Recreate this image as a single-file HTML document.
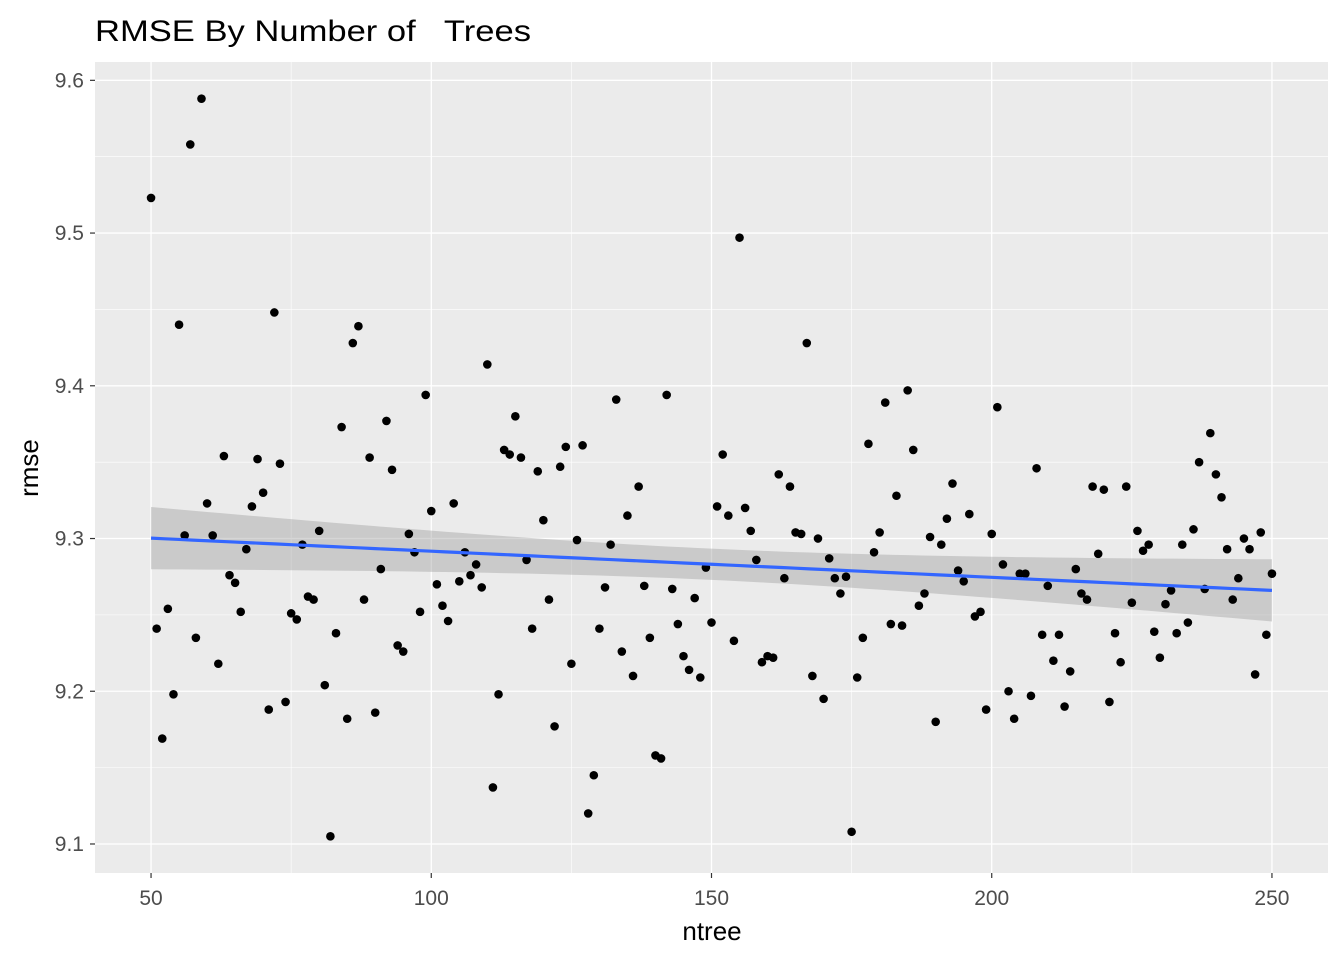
<!DOCTYPE html>
<html><head><meta charset="utf-8"><style>
html,body{margin:0;padding:0;background:#fff;}
svg text{font-family:"Liberation Sans",Arial,sans-serif;}
</style></head><body>
<svg id="chart" width="1344" height="960" xmlns="http://www.w3.org/2000/svg">
<text x="95" y="41" font-size="30" textLength="436" lengthAdjust="spacingAndGlyphs" fill="#000" style="white-space:pre" xml:space="preserve">RMSE By Number of   Trees</text>
<rect x="95" y="62" width="1233" height="811" fill="#EBEBEB"/>
<g id="grid"></g>
<g id="band"></g>
<g id="points"></g>
<g id="fit"></g>
<g id="axes"></g>
<text x="712" y="940" font-size="26" text-anchor="middle" fill="#000">ntree</text>
<text transform="translate(38,468) rotate(-90)" font-size="26" text-anchor="middle" fill="#000">rmse</text>
</svg>
<script>
const xTicks=[50,100,150,200,250];
const yTicks=[9.1,9.2,9.3,9.4,9.5,9.6];
const xMinor=[75,125,175,225];
const yMinor=[9.15,9.25,9.35,9.45,9.55];
const ntree=[];for(let i=50;i<=250;i++)ntree.push(i);
const rmse=[9.523,9.241,9.169,9.254,9.198,9.440,9.302,9.558,9.235,9.588,
9.323,9.302,9.218,9.354,9.276,9.271,9.252,9.293,9.321,9.352,
9.330,9.188,9.448,9.349,9.193,9.251,9.247,9.296,9.262,9.260,
9.305,9.204,9.105,9.238,9.373,9.182,9.428,9.439,9.260,9.353,
9.186,9.280,9.377,9.345,9.230,9.226,9.303,9.291,9.252,9.394,
9.318,9.270,9.256,9.246,9.323,9.272,9.291,9.276,9.283,9.268,
9.414,9.137,9.198,9.358,9.355,9.380,9.353,9.286,9.241,9.344,
9.312,9.260,9.177,9.347,9.360,9.218,9.299,9.361,9.120,9.145,
9.241,9.268,9.296,9.391,9.226,9.315,9.210,9.334,9.269,9.235,
9.158,9.156,9.394,9.267,9.244,9.223,9.214,9.261,9.209,9.281,
9.245,9.321,9.355,9.315,9.233,9.497,9.320,9.305,9.286,9.219,
9.223,9.222,9.342,9.274,9.334,9.304,9.303,9.428,9.210,9.300,
9.195,9.287,9.274,9.264,9.275,9.108,9.209,9.235,9.362,9.291,
9.304,9.389,9.244,9.328,9.243,9.397,9.358,9.256,9.264,9.301,
9.180,9.296,9.313,9.336,9.279,9.272,9.316,9.249,9.252,9.188,
9.303,9.386,9.283,9.200,9.182,9.277,9.277,9.197,9.346,9.237,
9.269,9.220,9.237,9.190,9.213,9.280,9.264,9.260,9.334,9.290,
9.332,9.193,9.238,9.219,9.334,9.258,9.305,9.292,9.296,9.239,
9.222,9.257,9.266,9.238,9.296,9.245,9.306,9.350,9.267,9.369,
9.342,9.327,9.293,9.260,9.274,9.300,9.293,9.211,9.304,9.237,9.277];
const NS="http://www.w3.org/2000/svg";
const X0=95,X1=1328,Y0=62,Y1=873;
const xMin=40,xMax=260,yMin=9.081,yMax=9.612;
function sx(v){return X0+(v-xMin)/(xMax-xMin)*(X1-X0);}
function sy(v){return Y1-(v-yMin)/(yMax-yMin)*(Y1-Y0);}
function mk(tag,attrs,parent){const e=document.createElementNS(NS,tag);for(const k in attrs)e.setAttribute(k,attrs[k]);document.getElementById(parent).appendChild(e);return e;}
xMinor.forEach(v=>{const e=mk('line',{x1:sx(v),x2:sx(v),y1:Y0,y2:Y1,stroke:'#fff','stroke-width':0.6},'grid');

});
yMinor.forEach(v=>{const e=mk('line',{x1:X0,x2:X1,y1:sy(v),y2:sy(v),stroke:'#fff','stroke-width':0.6},'grid');

});
xTicks.forEach(v=>{const e=mk('line',{x1:sx(v),x2:sx(v),y1:Y0,y2:Y1,stroke:'#fff','stroke-width':1.3},'grid');


const t=mk('line',{x1:sx(v),x2:sx(v),y1:Y1,y2:Y1+5,stroke:'#333','stroke-width':1.2},'axes');


const l=mk('text',{x:sx(v),y:905,'font-size':21,'text-anchor':'middle',fill:'#4D4D4D'},'axes');l.textContent=v;

});
yTicks.forEach(v=>{const e=mk('line',{x1:X0,x2:X1,y1:sy(v),y2:sy(v),stroke:'#fff','stroke-width':1.3},'grid');


const t=mk('line',{x1:X0-5,x2:X0,y1:sy(v),y2:sy(v),stroke:'#333','stroke-width':1.2},'axes');


const l=mk('text',{x:84,y:sy(v)+7,'font-size':21,'text-anchor':'end',fill:'#4D4D4D'},'axes');l.textContent=v.toFixed(1);

});
const n=ntree.length;let mx=0,my=0;for(let i=0;i<n;i++){mx+=ntree[i];my+=rmse[i];}mx/=n;my/=n;
let sxx=0,sxy=0;for(let i=0;i<n;i++){sxx+=(ntree[i]-mx)**2;sxy+=(ntree[i]-mx)*(rmse[i]-my);}
const b=sxy/sxx,a=my-b*mx;let sse=0;for(let i=0;i<n;i++)sse+=(rmse[i]-a-b*ntree[i])**2;
const s=Math.sqrt(sse/(n-2)),tq=1.972;
const xs=[];for(let k=0;k<=80;k++)xs.push(50+200*k/80);
let up=[],lo=[],ln=[];
xs.forEach(x=>{const f=a+b*x,se=s*Math.sqrt(1/n+(x-mx)**2/sxx);up.push(sx(x)+','+sy(f+tq*se));lo.push(sx(x)+','+sy(f-tq*se));ln.push(sx(x)+','+sy(f));});
const band=mk('polygon',{points:up.concat(lo.reverse()).join(' '),fill:'#999',opacity:0.4},'band');


ntree.forEach((v,i)=>{const c=mk('circle',{cx:sx(v),cy:sy(rmse[i]),r:4.3,fill:'#000'},'points');

});
const fl=mk('polyline',{points:ln.join(' '),fill:'none',stroke:'#3366FF','stroke-width':3.2},'fit');


</script>
</body></html>
